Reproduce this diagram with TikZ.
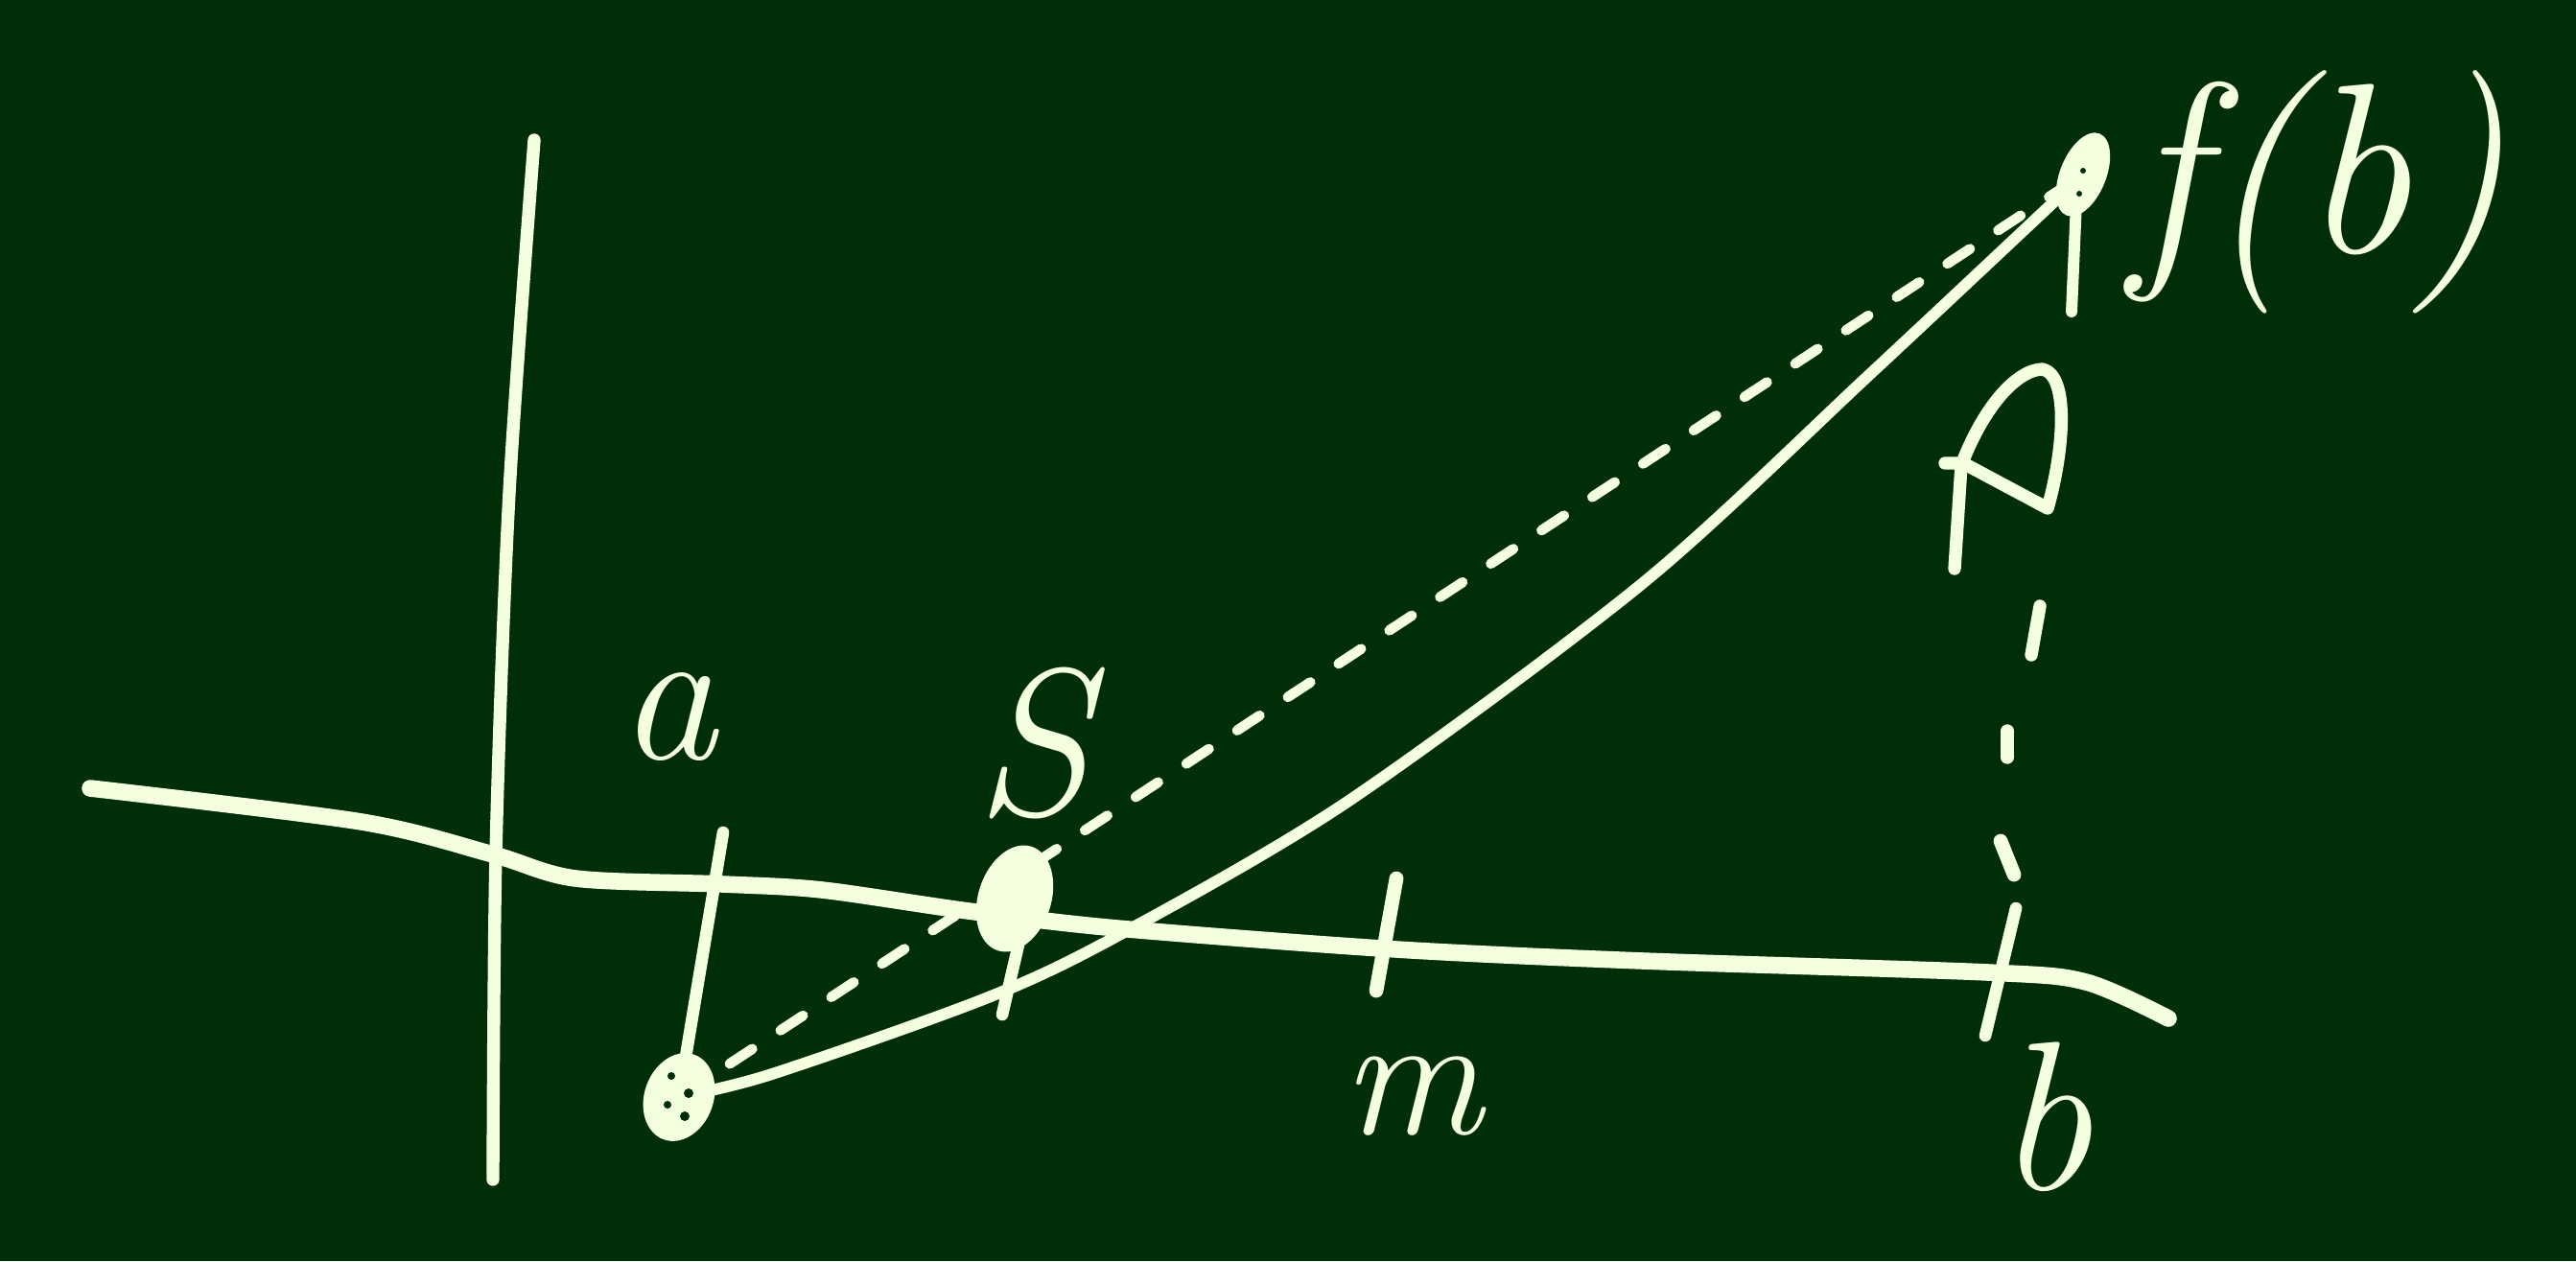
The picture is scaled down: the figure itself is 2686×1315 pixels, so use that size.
\documentclass[tikz,border=0pt]{standalone}
\usetikzlibrary{calc}
\definecolor{board}{RGB}{0,46,8}
\definecolor{chalk}{RGB}{244,255,224}
\tikzset{
  chalkline/.style={draw=chalk,line width=3.4pt,line cap=round,line join=round},
  axisline/.style={draw=chalk,line width=5pt,line cap=round,line join=round},
  secant/.style={draw=chalk,line width=3pt,line cap=round,dash pattern=on 8pt off 10pt},
  lbl/.style={text=chalk,inner sep=0pt,font=\itshape},
}
\begin{document}
\begin{tikzpicture}[x=0.01cm,y=-0.01cm]
\useasboundingbox (0,0) rectangle (2686,1315);
\fill[board] (0,0) rectangle (2686,1315);

% key points
\coordinate (A) at (708,1144);
\coordinate (FB) at (2172,182);

% axes
\draw[chalkline,line width=3.8pt] plot[smooth,tension=0.5] coordinates {(557,146) (531,514) (517,891) (514,1230)};
\draw[axisline] plot[smooth,tension=0.5] coordinates {(94,822) (377,857) (514,891) (600,916) (754,922) (857,928) (1010,950) (1165,968) (1456,990) (1713,1002) (2073,1014) (2175,1024) (2261,1062)};

% ticks
\draw[chalkline,line width=3.6pt] (754,868) -- (A);
\draw[chalkline,line width=3.6pt] (1062,985) -- (1045,1058);
\draw[chalkline,line width=4.2pt] (1456,916) -- (1435,1033);
\draw[chalkline,line width=3.6pt] (2102,947) -- (2070,1080);

% S point blob
\fill[chalk] (1058,937) ellipse [x radius=38, y radius=57, rotate=-18];

% curve
\draw[chalkline] plot[smooth,tension=0.5] coordinates {(A) (805,1120) (1028,1041) (1165,976) (1405,836) (1713,608) (1950,390) (FB)};

% secant
\draw[secant] (A) -- (FB);

% vertical dashes at b
\draw[chalkline,line width=3.8pt] (2127,632) -- (2118,683);
\draw[chalkline,line width=3.8pt] (2093,762) -- (2093,790);
\draw[chalkline,line width=4.2pt] (2086,877) -- (2100,912);

% stroke under f(b) point
\draw[chalkline] (2167,163) -- (2160,325);

% points
\fill[chalk] (A) ellipse [x radius=36, y radius=47, rotate=-20];
\fill[board] ($(A)+(-8,-22)$) circle [radius=4] ($(A)+(10,-4)$) circle [radius=5]
  ($(A)+(-12,8)$) circle [radius=4] ($(A)+(6,20)$) circle [radius=5];
\fill[chalk] (FB) ellipse [x radius=24, y radius=46, rotate=-22];
\fill[board] ($(FB)+(0,-4)$) circle [radius=3] ($(FB)+(-4,20)$) circle [radius=3];

% P-like glyph
\draw[chalkline,line width=3.8pt] (2038,593) -- (2045,485)
  .. controls (2070,420) and (2105,385) .. (2130,385)
  .. controls (2158,392) and (2152,470) .. (2135,530)
  -- (2047,483) -- (2028,483);

% labels
\node[lbl,font=\itshape\fontsize{58}{64}\selectfont] (la) at (696,748) {a};
\node[lbl,font=\itshape\fontsize{62}{68}\selectfont] (lS) at (1076,775) {S};
\node[lbl,font=\itshape\fontsize{52}{58}\selectfont] (lm) at (1473,1143) {m};
\node[lbl,font=\itshape\fontsize{63}{70}\selectfont] (lb) at (2131,1165) {b};
\node[lbl,font=\itshape\fontsize{72}{80}\selectfont] (lfb) at (2418,200) {f(b)};
\end{tikzpicture}
\end{document}
